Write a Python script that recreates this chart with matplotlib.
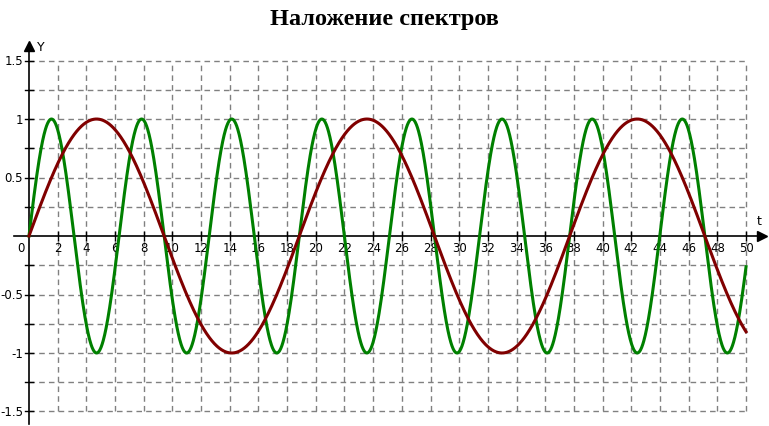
import numpy as np
import matplotlib
matplotlib.use("Agg")
import matplotlib.pyplot as plt

# curve parameters: y = amp * sin(omega * t)
T_START, T_END = 0.0, 50.0
GREEN_AMP, GREEN_OMEGA = 1.0, 1.0        # period ~6.28
RED_AMP, RED_OMEGA = 1.0, 1.0 / 3.0      # period ~18.85

X_TICKS = list(range(2, 52, 2))
Y_TICKS = [1.5, 1, 0.5, -0.5, -1, -1.5]
Y_TICK_LABELS = ["1.5", "1", "0.5", "-0.5", "-1", "-1.5"]
Y_GRID = [-1.5, -1.25, -1, -0.75, -0.5, -0.25, 0.25, 0.5, 0.75, 1, 1.25, 1.5]

TITLE = "Наложение спектров"

GREEN = "#008000"
RED = "#800000"
GRID = "#808080"

fig = plt.figure(figsize=(7.69, 4.27), dpi=100)
ax = fig.add_axes([0, 0, 1, 1])
ax.set_xlim(-2.02, 51.6)
ax.set_ylim(-1.624, 2.026)
ax.axis("off")

# ── grid ──
for xv in X_TICKS:
    ax.plot([xv, xv], [Y_GRID[0], Y_GRID[-1]], color=GRID, lw=1,
            ls=(0, (4, 3)), zorder=1)
for yv in Y_GRID:
    ax.plot([0, X_TICKS[-1]], [yv, yv], color=GRID, lw=1,
            ls=(0, (4, 3)), zorder=1)

# ── axes with arrows ──
ax.plot([-1.05, 51.0], [0, 0], color="black", lw=1.2, zorder=2)
ax.plot([0, 0], [-1.61, 1.6], color="black", lw=1.2, zorder=2)
ax.plot([51.1], [0], marker=">", color="black", ms=7, zorder=2)
ax.plot([0], [1.62], marker="^", color="black", ms=7, zorder=2)
ax.text(0.55, 1.62, "Y", fontsize=9, family="DejaVu Sans", va="center", ha="left")
ax.text(50.9, 0.08, "t", fontsize=9, family="DejaVu Sans", va="bottom", ha="center")

# ticks and labels
for xv in X_TICKS:
    ax.plot([xv, xv], [-0.035, 0.035], color="black", lw=1, zorder=2)
    ax.text(xv, -0.045, str(xv), fontsize=8.5, family="DejaVu Sans",
            ha="center", va="top")
for yv in Y_GRID:
    ax.plot([-0.25, 0.25], [yv, yv], color="black", lw=1, zorder=2)
for yv, lab in zip(Y_TICKS, Y_TICK_LABELS):
    ax.text(-0.4, yv, lab, fontsize=8.5, family="DejaVu Sans",
            ha="right", va="center")
ax.text(-0.3, -0.045, "0", fontsize=8.5, family="DejaVu Sans", ha="right", va="top")

# ── curves ──
t = np.linspace(T_START, T_END, 2000)
ax.plot(t, GREEN_AMP * np.sin(GREEN_OMEGA * t), color=GREEN, lw=2.2, zorder=3)
ax.plot(t, RED_AMP * np.sin(RED_OMEGA * t), color=RED, lw=2.2, zorder=4)

fig.text(0.5, 0.955, TITLE, fontsize=17.5, fontweight="bold",
         family="Liberation Serif", ha="center", va="center")

fig.savefig("out.png", dpi=100)
